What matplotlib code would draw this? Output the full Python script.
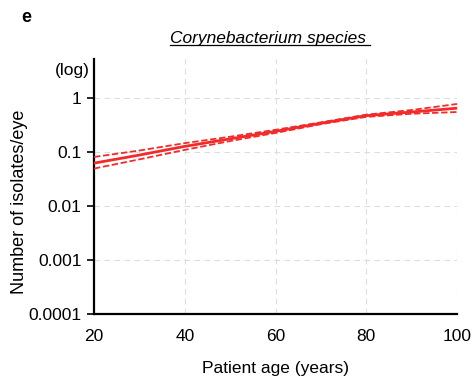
import matplotlib
matplotlib.use('Agg')
import matplotlib.pyplot as plt
from matplotlib.lines import Line2D

plt.rcParams['font.family'] = ['Liberation Sans', 'DejaVu Sans']

# Corynebacterium species, fitted isolates/eye vs age
ages = [20, 30, 40, 50, 60, 70, 80, 90, 100]
fitValues = [0.063, 0.089, 0.129, 0.178, 0.245, 0.347, 0.48, 0.56, 0.66]
upperValues = [0.082, 0.108, 0.148, 0.195, 0.262, 0.36, 0.50, 0.61, 0.79]
lowerValues = [0.050, 0.074, 0.111, 0.162, 0.229, 0.333, 0.455, 0.52, 0.56]
yTicks = [1e-4, 1e-3, 1e-2, 1e-1, 1]
yTickLabels = ['0.0001', '0.001', '0.01', '0.1', '1']
xTicks = [20, 40, 60, 80, 100]

fig = plt.figure(figsize=(4.75, 3.88), dpi=100)
ax = fig.add_axes([0.198, 0.191, 0.764, 0.658])

red = '#f42a2a'
ax.plot(ages, fitValues, color=red, lw=2.0, zorder=3)
ax.plot(ages, upperValues, color=red, lw=1.3, ls=(0, (3.5, 1.5)), zorder=3)
ax.plot(ages, lowerValues, color=red, lw=1.3, ls=(0, (3.5, 1.5)), zorder=3)

ax.set_yscale('log')
ax.set_xlim(20, 100)
ax.set_ylim(1e-4, 5.5)
ax.set_yticks(yTicks)
ax.set_yticklabels(yTickLabels)
ax.minorticks_off()
ax.set_xticks(xTicks)

ax.tick_params(axis='y', direction='out', length=5, width=1.2, labelsize=12.5, pad=4)
ax.tick_params(axis='x', length=0, labelsize=12.5, pad=11)

for s in ['top', 'right']:
    ax.spines[s].set_visible(False)
ax.spines['left'].set_linewidth(1.6)
ax.spines['bottom'].set_linewidth(1.6)

# light dashed grid
for xv in xTicks[1:]:
    ax.axvline(xv, color='#dddddd', lw=0.8, ls=(0, (5, 4)), zorder=1)
for yv in yTicks[1:]:
    ax.axhline(yv, color='#dddddd', lw=0.8, ls=(0, (5, 4)), zorder=1)

ax.set_xlabel('Patient age (years)', fontsize=12.5, labelpad=12)
fig.text(0.042, 0.479, 'Number of isolates/eye', fontsize=13, rotation=90,
         ha='center', va='center')

fig.text(0.19, 0.80, '(log)', fontsize=12.5, ha='right', va='bottom')
fig.text(0.045, 0.955, 'e', fontsize=13, fontweight='bold', ha='left', va='center')

title = fig.text(0.565, 0.9, 'Corynebacterium species', fontsize=12.5, style='italic',
                 ha='center', va='center')
fig.canvas.draw()
bb = title.get_window_extent().transformed(fig.transFigure.inverted())
fig.add_artist(Line2D([bb.x0, bb.x1 + 0.008], [bb.y0 + 0.004, bb.y0 + 0.004],
                      color='black', lw=0.9, transform=fig.transFigure))

fig.savefig('out.png', dpi=100)
